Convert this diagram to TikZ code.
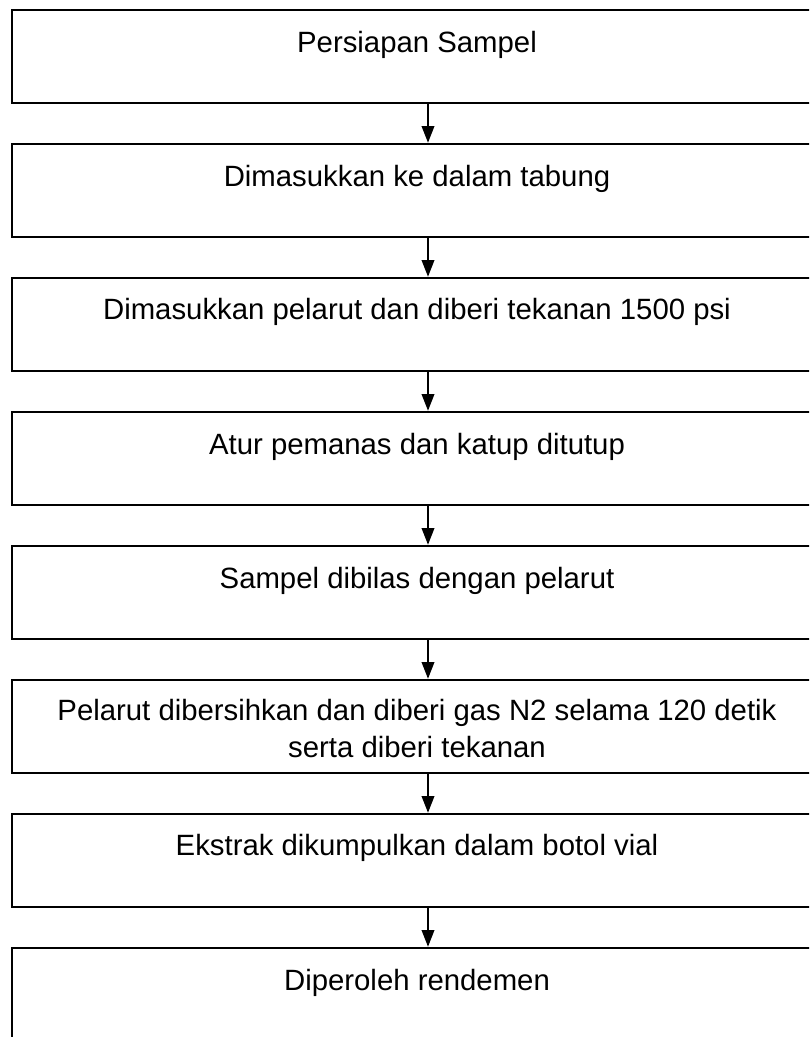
\documentclass[tikz,border=0pt]{standalone}
\usepackage{fontspec}
\setmainfont{Liberation Sans}
\usetikzlibrary{arrows.meta}
\begin{document}
\begin{tikzpicture}[x=0.75pt,y=-0.75pt,
  stepbox/.style={draw, line width=1.9pt, fill=white, minimum width=607.5pt, minimum height=69.75pt, inner sep=0pt},
  lbl/.style={anchor=base, align=center, inner sep=0pt, font=\fontsize{22pt}{27.75pt}\selectfont},
  arr/.style={line width=1.1pt, -{Triangle[length=12.5pt,width=9.5pt]}}]
\useasboundingbox (0,0) rectangle (809,1037);
\clip (0,0) rectangle (809,1037);
\coordinate (ax) at (428,0);
\node[stepbox] (b1) at (417,56.5) {};
\node[stepbox] (b2) at (417,190.5) {};
\node[stepbox] (b3) at (417,324.5) {};
\node[stepbox] (b4) at (417,458.5) {};
\node[stepbox] (b5) at (417,592.5) {};
\node[stepbox] (b6) at (417,726.5) {};
\node[stepbox] (b7) at (417,860.5) {};
\node[stepbox] (b8) at (417,994.5) {};
\node[lbl] (l1) at (417,53) {Persiapan Sampel};
\node[lbl] (l2) at (417,187) {Dimasukkan ke dalam tabung};
\node[lbl] (l3) at (417,319) {Dimasukkan pelarut dan diberi tekanan 1500 psi};
\node[lbl] (l4) at (417,454) {Atur pemanas dan katup ditutup};
\node[lbl] (l5) at (417,588) {Sampel dibilas dengan pelarut};
\node[lbl] (l6) at (417,757) {Pelarut dibersihkan dan diberi gas N2 selama 120 detik\\serta diberi tekanan};
\node[lbl] (l7) at (417,855) {Ekstrak dikumpulkan dalam botol vial};
\node[lbl] (l8) at (417,990) {Diperoleh rendemen};
\draw[arr] (b1.south -| ax) -- (b2.north -| ax);
\draw[arr] (b2.south -| ax) -- (b3.north -| ax);
\draw[arr] (b3.south -| ax) -- (b4.north -| ax);
\draw[arr] (b4.south -| ax) -- (b5.north -| ax);
\draw[arr] (b5.south -| ax) -- (b6.north -| ax);
\draw[arr] (b6.south -| ax) -- (b7.north -| ax);
\draw[arr] (b7.south -| ax) -- (b8.north -| ax);
\end{tikzpicture}
\end{document}
